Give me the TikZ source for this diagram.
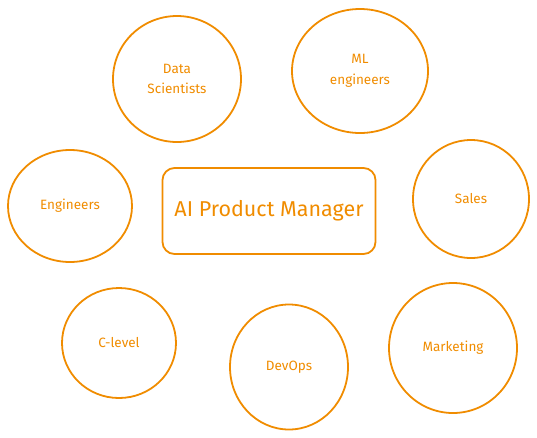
\documentclass[tikz,border=0pt]{standalone}
\usepackage{fontspec}
\setmainfont{Fira Sans}
\usetikzlibrary{shapes.geometric}
\definecolor{sketch}{HTML}{F08C00}

\begin{document}
\begin{tikzpicture}[x=1pt,y=-1pt,
    role/.style={ellipse,draw=sketch,line width=1.8pt,text=sketch,inner sep=0pt,
      align=center,font=\fontsize{13.5}{20.5}\selectfont},
    pm/.style={rectangle,rounded corners=12pt,draw=sketch,line width=1.8pt,text=sketch,
      minimum width=213pt,minimum height=86pt,font=\fontsize{21.5}{24}\selectfont}]

  \useasboundingbox (0,0) rectangle (537,437);

  \node[pm] (pm) at (269,211) {AI Product Manager};

  \node[role,minimum width=128pt,minimum height=126pt] (ds) at (177,79) {Data\\Scientists};
  \node[role,minimum width=136pt,minimum height=124pt] (ml) at (360,71) {ML\\engineers};
  \node[role,minimum width=124pt,minimum height=112pt] (eng) at (70,206) {Engineers};
  \node[role,minimum width=116pt,minimum height=118pt] (sales) at (471,199) {Sales};
  \node[role,minimum width=114pt,minimum height=110pt] (clevel) at (119,343) {C-level};
  \node[role,minimum width=118pt,minimum height=125pt] (devops) at (289,367) {DevOps};
  \node[role,minimum width=128pt,minimum height=130pt] (mkt) at (453,348) {Marketing};

\end{tikzpicture}
\end{document}
